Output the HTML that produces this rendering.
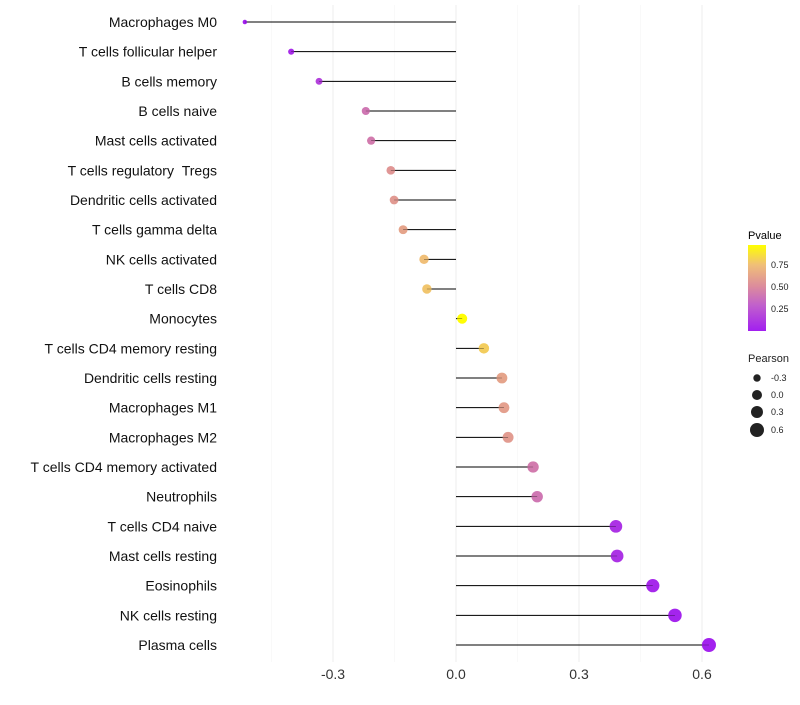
<!DOCTYPE html>
<html><head><meta charset="utf-8"><style>
body{margin:0;background:#fff;font-family:"Liberation Sans",sans-serif}
</style></head><body>
<svg id="chart" width="800" height="700" xmlns="http://www.w3.org/2000/svg" font-family="Liberation Sans, sans-serif">
<defs><linearGradient id="pg" x1="0" y1="1" x2="0" y2="0">
<stop offset="0" stop-color="#a21ff0"/><stop offset="0.3" stop-color="#c160cc"/><stop offset="0.52" stop-color="#dc8c9c"/><stop offset="0.77" stop-color="#f0bf78"/><stop offset="1" stop-color="#ffff00"/></linearGradient></defs>
<g id="grid"></g><g id="marks"></g><g id="labels"></g>
<g>
<text x="748" y="239" font-size="11">Pvalue</text>
<rect x="748" y="245" width="18" height="86" fill="url(#pg)"/>
<g font-size="9" fill="#222"><text x="771" y="268">0.75</text><text x="771" y="290">0.50</text><text x="771" y="312">0.25</text>
<text x="748" y="362" font-size="11">Pearson</text>
<circle cx="757" cy="378" r="3.7"/><text x="771" y="381">-0.3</text>
<circle cx="757" cy="395" r="5"/><text x="771" y="398">0.0</text>
<circle cx="757" cy="412" r="6"/><text x="771" y="415">0.3</text>
<circle cx="757" cy="430" r="7"/><text x="771" y="433">0.6</text></g>
</g>
</svg>
<script>
const cells=["Macrophages M0","T cells follicular helper","B cells memory","B cells naive","Mast cells activated","T cells regulatory\u00a0\u00a0Tregs","Dendritic cells activated","T cells gamma delta","NK cells activated","T cells CD8","Monocytes","T cells CD4 memory resting","Dendritic cells resting","Macrophages M1","Macrophages M2","T cells CD4 memory activated","Neutrophils","T cells CD4 naive","Mast cells resting","Eosinophils","NK cells resting","Plasma cells"];
const pearson=[-0.515,-0.402,-0.334,-0.22,-0.207,-0.159,-0.151,-0.129,-0.078,-0.071,0.015,0.068,0.112,0.117,0.127,0.188,0.198,0.39,0.393,0.48,0.534,0.617];
const pvalue=[0.0,0.05,0.15,0.4,0.42,0.55,0.57,0.62,0.75,0.77,0.97,0.8,0.62,0.6,0.58,0.42,0.4,0.08,0.08,0.03,0.01,0.002];
const ticks=[-0.3,0,0.3,0.6];
const tickLabels=["-0.3","0.0","0.3","0.6"];
const minor=[-0.45,-0.15,0.15,0.45];
const NS="http://www.w3.org/2000/svg";
const x=v=>456+v*410;
const y=i=>22+i*(623/21);
function mk(t,a,p){const e=document.createElementNS(NS,t);for(const k in a)e.setAttribute(k,a[k]);p.appendChild(e);return e;}
const stops=[[0,[162,31,240]],[0.3,[193,96,204]],[0.52,[220,140,156]],[0.77,[240,191,120]],[1,[255,255,0]]];
function col(p){p=(p+0.011)/0.988;p=Math.max(0,Math.min(1,p));for(let i=1;i<stops.length;i++){if(p<=stops[i][0]){const a=stops[i-1],b=stops[i],t=(p-a[0])/(b[0]-a[0]);return 'rgb('+a[1].map((c,j)=>Math.round(c+(b[1][j]-c)*t)).join(',')+')';}}return 'rgb(255,255,0)';}
const g=document.getElementById('grid'),m=document.getElementById('marks'),l=document.getElementById('labels');
minor.forEach(v=>{const e=mk('line',{x1:x(v),x2:x(v),y1:5,y2:662,stroke:'#f5f5f5','stroke-width':0.6},g);

});
ticks.forEach((v,i)=>{const e=mk('line',{x1:x(v),x2:x(v),y1:5,y2:662,stroke:'#ededed','stroke-width':1},g);


const t=mk('text',{x:x(v),y:679,'font-size':14,'text-anchor':'middle',fill:'#333'},l);t.textContent=tickLabels[i];

});
cells.forEach((c,i)=>{const yy=y(i);
const t=mk('text',{x:217,y:yy+5,'font-size':14,'text-anchor':'end',fill:'#111'},l);t.textContent=c;


const ln=mk('line',{x1:x(0),x2:x(pearson[i]),y1:yy,y2:yy,stroke:'#000','stroke-width':1},m);


const r=Math.sqrt(Math.max(2,25+39*pearson[i]));
const ci=mk('circle',{cx:x(pearson[i]),cy:yy,r:r,fill:col(pvalue[i])},m);


const ln2=mk('line',{x1:x(0),x2:x(pearson[i]),y1:yy,y2:yy,stroke:'#000','stroke-width':0.6,'stroke-opacity':0.5},m);

});
</script>
</body></html>
